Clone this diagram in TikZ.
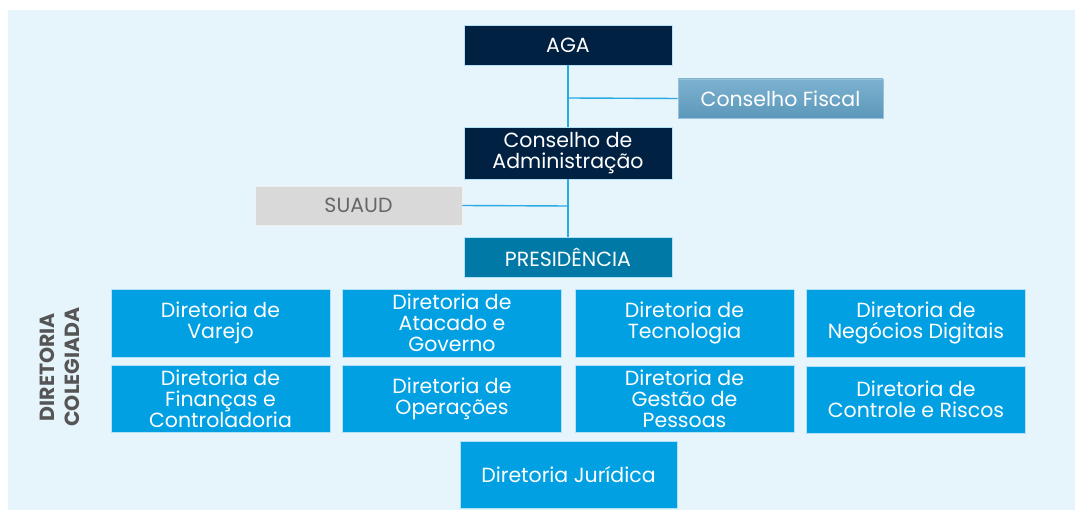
\documentclass[tikz,border=0pt]{standalone}
\usepackage{fontspec}
\setmainfont{Poppins}
\definecolor{bgblue}{HTML}{E6F4FC}
\definecolor{navy}{HTML}{002142}
\definecolor{fiscalA}{HTML}{7DB2D0}
\definecolor{fiscalB}{HTML}{5C98BA}
\definecolor{suaudgray}{HTML}{D9D9D9}
\definecolor{suaudtext}{HTML}{666666}
\definecolor{presblue}{HTML}{0079A6}
\definecolor{dirblue}{HTML}{00A0E3}
\definecolor{linkblue}{HTML}{29AAE2}
\definecolor{labelgray}{HTML}{555555}
\begin{document}
\begin{tikzpicture}[x=1pt,y=-1pt,
  box/.style={inner sep=0pt, align=center, font=\fontsize{20.5}{21}\selectfont, text=white, draw=white!70!dirblue, line width=0.6pt},
  topbox/.style={box, fill=navy, minimum width=208pt},
  dirbox/.style={box, fill=dirblue, minimum width=219pt, minimum height=68pt},
  link/.style={draw=linkblue, line width=1.4pt}]
\useasboundingbox (0,0) rectangle (1079,510);
\fill[white] (0,0) rectangle (1079,510);
\fill[bgblue] (8,10) rectangle (1075,510);

\node[topbox, minimum height=40pt] (aga) at (568,45) {AGA};
\node[box, top color=fiscalA, bottom color=fiscalB, draw=fiscalA!80!white, minimum width=205pt, minimum height=39pt] (fiscal) at (780.5,98.5) {Conselho Fiscal};
\node[topbox, minimum height=52pt] (cons) at (568,153) {Conselho de\\Administração};
\node[box, fill=suaudgray, draw=white!60!suaudgray, text=suaudtext, minimum width=207pt, minimum height=39pt] (suaud) at (358.5,205.5) {SUAUD};
\node[box, fill=presblue, minimum width=208pt, minimum height=40pt] (pres) at (568,257) {PRESIDÊNCIA};

\coordinate (j1) at (568,98);
\coordinate (j2) at (568,206);
\draw[link] (aga.south) -- (cons.north);
\draw[link] (cons.south) -- (pres.north);
\draw[link] (j1) -- (fiscal.west);
\draw[link] (j2) -- (suaud.east);

\node[dirbox] (varejo) at (220.5,323) {Diretoria de\\Varejo};
\node[dirbox] (atacado) at (452,323) {Diretoria de\\Atacado e\\Governo};
\node[dirbox] (tec) at (684.5,323) {Diretoria de\\Tecnologia};
\node[dirbox] (neg) at (916,323) {Diretoria de\\Negócios Digitais};
\node[dirbox, minimum height=67pt] (fin) at (220.5,398.5) {Diretoria de\\Finanças e\\Controladoria};
\node[dirbox, minimum height=67pt] (oper) at (452,398.5) {Diretoria de\\Operações};
\node[dirbox, minimum height=67pt] (gest) at (684.5,398.5) {Diretoria de\\Gestão de\\Pessoas};
\node[dirbox, minimum height=67pt] (ctrl) at (916,399.5) {Diretoria de\\Controle e Riscos};
\node[dirbox, minimum width=217pt, minimum height=67pt] (jur) at (568.5,474.5) {Diretoria Jurídica};

\node[rotate=90, align=center, text=labelgray, font=\fontsize{20.5}{25}\bfseries\selectfont] (colegiada) at (60,367) {DIRETORIA\\COLEGIADA};
\end{tikzpicture}
\end{document}
